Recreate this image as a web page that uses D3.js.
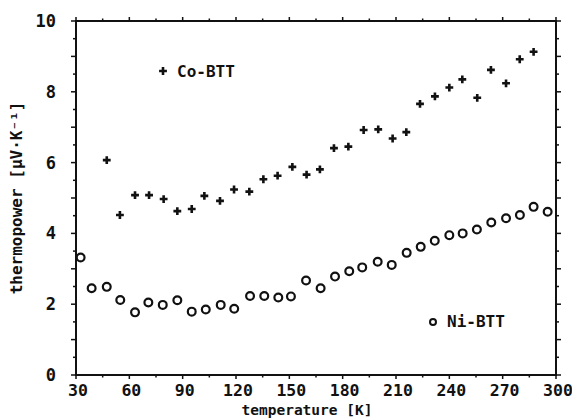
<!DOCTYPE html>
<html><head><meta charset="utf-8">
<script src="https://cdn.jsdelivr.net/npm/d3@7"></script>
<style>body{margin:0;background:#fff}text{font-family:"DejaVu Sans Mono",monospace;font-weight:bold;fill:#111}</style>
</head><body><svg id="c" width="572" height="419"></svg>
<script>
const coT = [47.3,54.7,63.2,71.1,79.3,87,95.1,102.2,111,118.9,127.5,135.4,143.4,151.7,159.7,167.2,175.1,183.2,191.8,200,208.1,215.8,223.5,231.9,240,247.3,255.7,263.4,271.9,279.6,287.4];
const coV = [6.07,4.52,5.08,5.08,4.97,4.63,4.69,5.06,4.92,5.24,5.18,5.53,5.63,5.88,5.66,5.81,6.41,6.45,6.92,6.94,6.68,6.86,7.66,7.87,8.12,8.35,7.83,8.62,8.24,8.92,9.13];
const niT = [32.6,38.8,47.3,54.9,63.2,70.7,78.8,87,95.1,103,111.4,119,127.9,135.9,143.8,150.9,159.4,167.6,175.7,183.7,191,199.7,207.6,216,223.9,231.8,240,247.5,255.5,263.6,271.9,279.7,287.4,295.3];
const niV = [3.32,2.45,2.49,2.12,1.77,2.05,1.98,2.11,1.79,1.85,1.98,1.87,2.23,2.23,2.19,2.22,2.67,2.45,2.78,2.93,3.04,3.2,3.11,3.45,3.62,3.79,3.95,4.0,4.11,4.31,4.43,4.52,4.75,4.61];
const xTicks = [30,60,90,120,150,180,210,240,270,300];
const yTicks = [0,2,4,6,8,10];

const svg = d3.select("#c");
const L=76,R=556,T=21,B=375;
const x = d3.scaleLinear().domain([30,300]).range([L,R]);
const y = d3.scaleLinear().domain([0,10]).range([B,T]);

// frame
svg.append("rect").attr("x",L).attr("y",T).attr("width",R-L).attr("height",B-T)
  .attr("fill","none").attr("stroke","#111").attr("stroke-width",2);

const minorX = d3.range(30,301,15);
const minorY = d3.range(0,10.01,0.5);
const g = svg.append("g").attr("stroke","#111").attr("stroke-width",1.5);
minorX.forEach(v=>{
  const len = (v-30)%30===0 ? 4 : 2.5;
  g.append("line").attr("x1",x(v)).attr("x2",x(v)).attr("y1",T).attr("y2",T-len);
  g.append("line").attr("x1",x(v)).attr("x2",x(v)).attr("y1",B).attr("y2",B+len);
});
minorY.forEach(v=>{
  const len = Math.abs(v-Math.round(v))<1e-6 ? 5 : 3;
  g.append("line").attr("x1",L).attr("x2",L-len).attr("y1",y(v)).attr("y2",y(v));
  g.append("line").attr("x1",R).attr("x2",R+len).attr("y1",y(v)).attr("y2",y(v));
});

xTicks.forEach(v=>{
  svg.append("text").attr("x",x(v)+2).attr("y",396).attr("text-anchor","middle")
    .attr("font-size",16.5).text(v);
});
yTicks.forEach(v=>{
  svg.append("text").attr("x",56).attr("y",y(v)+6).attr("text-anchor","end")
    .attr("font-size",17).text(v);
});

svg.append("text").attr("x",307).attr("y",415).attr("text-anchor","middle")
  .attr("font-size",14.5).text("temperature [K]");
svg.append("text").attr("transform","translate(22,198) rotate(-90)").attr("text-anchor","middle")
  .attr("font-size",16).text("thermopower [µV·K⁻¹]");

// Co-BTT markers (small filled plus)
const plus = d3.symbol().type(d3.symbolCross).size(34);
svg.append("g").selectAll("path").data(coT.map((t,i)=>[t,coV[i]])).join("path")
  .attr("d",plus).attr("transform",d=>`translate(${x(d[0])},${y(d[1])})`)
  .attr("fill","#111");

// Ni-BTT open circles
svg.append("g").selectAll("circle").data(niT.map((t,i)=>[t,niV[i]])).join("circle")
  .attr("cx",d=>x(d[0])).attr("cy",d=>y(d[1])).attr("r",3.9)
  .attr("fill","none").attr("stroke","#111").attr("stroke-width",2.2);

// legends
svg.append("path").attr("d",plus).attr("transform","translate(163,71)").attr("fill","#111");
svg.append("text").attr("x",177).attr("y",77).attr("font-size",16).text("Co-BTT");
svg.append("circle").attr("cx",433).attr("cy",322).attr("r",3).attr("fill","none").attr("stroke","#111").attr("stroke-width",2);
svg.append("text").attr("x",447).attr("y",327).attr("font-size",16).text("Ni-BTT");
</script></body></html>
